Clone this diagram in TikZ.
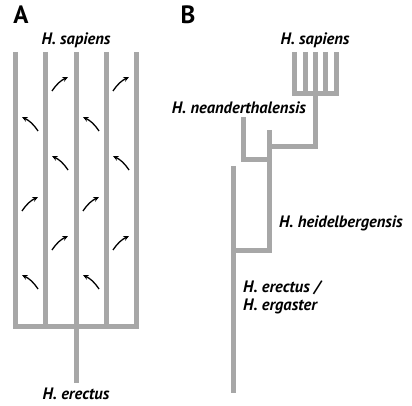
\documentclass[tikz,border=0pt]{standalone}
\usepackage{fontspec}
\setmainfont{PT Sans}
\usetikzlibrary{arrows.meta}
\definecolor{branchgray}{RGB}{167,167,167}

\begin{document}
\begin{tikzpicture}[x=1pt, y=-1pt,
branch/.style={draw=branchgray, line width=5pt, line join=miter},
flow/.style={-{Stealth[length=5.5pt, width=5pt]}, line width=1.3pt, black},
taxon/.style={font=\fontsize{16.5}{18}\selectfont\bfseries\itshape, inner sep=0pt},
panel/.style={font=\fontsize{25}{28}\selectfont\bfseries, inner sep=0pt}
]
\useasboundingbox (0,0) rectangle (412,406);
%Panel labels
\node[panel] (pa) at (21,15) {A};
\node[panel] (pb) at (188,15) {B};
%Panel A: lineages
\foreach \x/\i in {15/1, 45/2, 76/3, 106/4, 136/5} {
  \coordinate (t\i) at (\x,52);
  \coordinate (b\i) at (\x,326);
}
\coordinate (root) at (76,383);
\draw[branch] (t1) -- (b1) -- (b5) -- (t5);
\foreach \i in {2,3,4} \draw[branch] (t\i) -- (b\i);
\draw[branch] (b3) -- (root);
\node[taxon] (sapA) at (76,40) {H. sapiens};
\node[taxon] (erA) at (76,394) {H. erectus};
%Panel A: gene flow (1 = up right, -1 = up left)
\foreach \l/\y/\d [count=\k] in {45/91/1, 106/91/1, 15/131/-1, 76/131/-1,
    45/170/-1, 106/170/-1, 15/211/1, 76/211/1,
    45/250/1, 106/250/1, 15/289/-1, 76/289/-1} {
  \coordinate (fs\k) at (\l+15-8*\d,\y);
  \coordinate (fe\k) at (\l+15+8*\d,\y-14);
  \ifnum\d=1
    \draw[flow] (fs\k) to[bend left=15] (fe\k);
  \else
    \draw[flow] (fs\k) to[bend right=15] (fe\k);
  \fi
}
%Panel B: tree
\foreach \x/\i in {294/1, 305/2, 315/3, 325/4, 336/5} {
  \coordinate (st\i) at (\x,52);
  \coordinate (sb\i) at (\x,94);
}
\draw[branch] (st1) -- (sb1) -- (sb5) -- (st5);
\foreach \i in {2,3,4} \draw[branch] (st\i) -- (sb\i);
\coordinate (sj) at (315,147);
\coordinate (ht) at (269,130);
\coordinate (hj) at (269,147);
\coordinate (hn) at (269,160);
\coordinate (hb) at (269,250);
\coordinate (nt) at (243,117);
\coordinate (nb) at (243,160);
\coordinate (et) at (233,166);
\coordinate (ej) at (233,250);
\coordinate (eb) at (233,393);
\draw[branch] (sb3) -- (sj) -- (hj);
\draw[branch] (ht) -- (hb) -- (ej);
\draw[branch] (nt) -- (nb) -- (hn);
\draw[branch] (et) -- (eb);
\node[taxon] (sapB) at (315,40) {H. sapiens};
\node[taxon, anchor=east] (nea) at (306,108) {H. neanderthalensis};
\node[taxon, anchor=west] (hei) at (279,223) {H. heidelbergensis};
\node[taxon, anchor=west] (ere) at (243,288) {H. erectus /};
\node[taxon, anchor=west] (erg) at (243,306) {H. ergaster};
\end{tikzpicture}
\end{document}
